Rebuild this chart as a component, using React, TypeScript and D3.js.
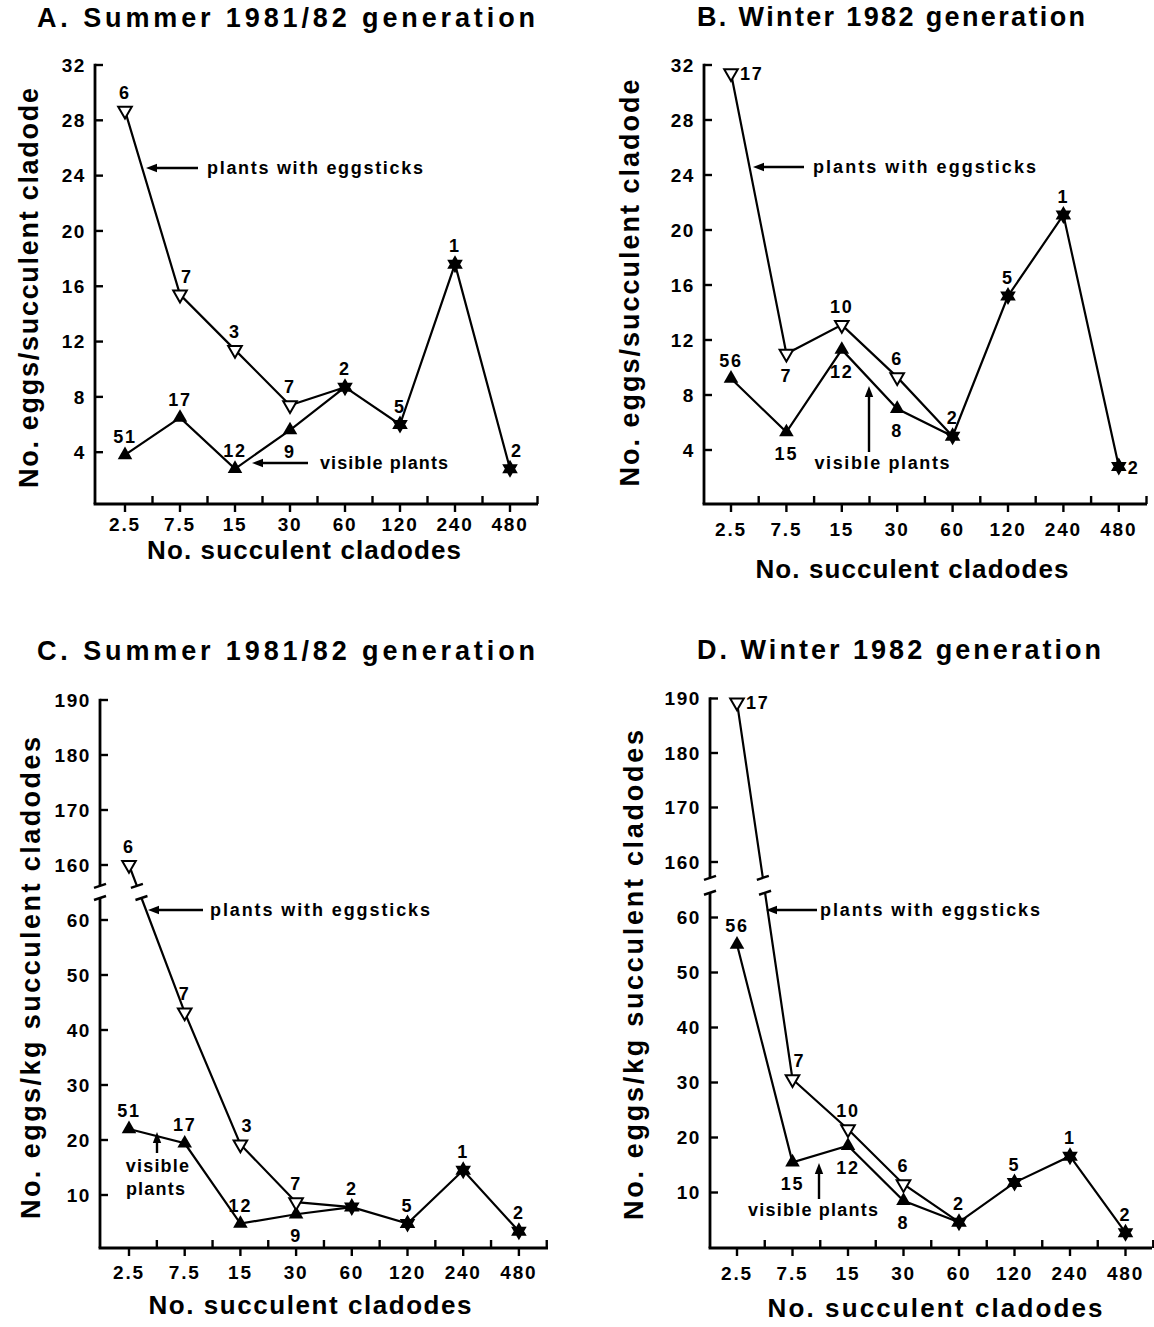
import React from "react";
import * as d3 from "d3";

const categories = ["2.5", "7.5", "15", "30", "60", "120", "240", "480"];

// Panel A: eggs per succulent cladode, summer 1981/82
const aEggsticks = [28.7, 15.4, 11.4, 7.4];
const aEggsticksN = ["6", "7", "3", "7"];
const aVisible = [3.8, 6.5, 2.8, 5.6];
const aVisibleN = ["51", "17", "12", "9"];
const aShared = [8.7, 6.0, 17.6, 2.8];
const aSharedN = ["2", "5", "1", "2"];

// Panel B: eggs per succulent cladode, winter 1982
const bEggsticks = [31.4, 11.0, 13.1, 9.3];
const bEggsticksN = ["17", "7", "10", "6"];
const bVisible = [9.2, 5.3, 11.3, 7.0];
const bVisibleN = ["56", "15", "12", "8"];
const bShared = [5.0, 15.2, 21.1, 2.8];
const bSharedN = ["2", "5", "1", "2"];

// Panel C: eggs per kg succulent cladodes, summer 1981/82
const cEggsticks = [160, 43.2, 19.2, 8.7];
const cEggsticksN = ["6", "7", "3", "7"];
const cVisible = [22.0, 19.4, 4.8, 6.5];
const cVisibleN = ["51", "17", "12", "9"];
const cShared = [7.8, 4.8, 14.5, 3.4];
const cSharedN = ["2", "5", "1", "2"];

// Panel D: eggs per kg succulent cladodes, winter 1982
const dEggsticks = [189.3, 30.6, 21.5, 11.5];
const dEggsticksN = ["17", "7", "10", "6"];
const dVisible = [55.1, 15.5, 18.5, 8.5];
const dVisibleN = ["56", "15", "12", "8"];
const dShared = [4.6, 11.8, 16.6, 2.7];
const dSharedN = ["2", "5", "1", "2"];

const yTicksPerCladode = [4, 8, 12, 16, 20, 24, 28, 32];
const yTicksKgLow = [10, 20, 30, 40, 50, 60];
const yTicksKgHigh = [160, 170, 180, 190];

const FONT = "'Liberation Sans', Arial, Helvetica, sans-serif";

type Panel = {
  title: string;
  titleX: number;
  titleY: number;
  titleLen: number;
  yLabel: string;
  yLabelX: number;
  yLabelY: number;
  yLabelLen: number;
  xLabelX: number;
  xLabelY: number;
  xLabelLen: number;
  axisX: number;
  axisY: number;
  axisEnd: number;
  x0: number;
  dx: number;
  tickLabelY: number;
  lowDomain: [number, number];
  lowRange: [number, number];
  lowTicks: number[];
  highDomain?: [number, number];
  highRange?: [number, number];
  highTicks?: number[];
  breakHigh?: number;
  breakLow?: number;
  egg: number[];
  eggN: string[];
  eggPos: string[];
  vis: number[];
  visN: string[];
  visPos: string[];
  shared: number[];
  sharedN: string[];
  sharedPos: string[];
  eggArrow: { x1: number; x2: number; y: number; tx: number; len: number };
  visArrow: {
    x1: number;
    y1: number;
    x2: number;
    y2: number;
    lines: { text: string; x: number; y: number; len?: number; anchor: string }[];
  };
};

const panels: Panel[] = [
  {
    title: "A. Summer 1981/82 generation",
    titleX: 286, titleY: 27, titleLen: 498,
    yLabel: "No. eggs/succulent cladode",
    yLabelX: 38, yLabelY: 288, yLabelLen: 400,
    xLabelX: 304, xLabelY: 559, xLabelLen: 314,
    axisX: 95, axisY: 504, axisEnd: 538, x0: 125, dx: 55, tickLabelY: 531,
    lowDomain: [0, 32], lowRange: [507.5, 65], lowTicks: yTicksPerCladode,
    egg: aEggsticks, eggN: aEggsticksN, eggPos: ["a", "ar", "a", "a"],
    vis: aVisible, visN: aVisibleN, visPos: ["a", "a", "a", "b"],
    shared: aShared, sharedN: aSharedN, sharedPos: ["a", "a", "a", "ar"],
    eggArrow: { x1: 198, x2: 146, y: 168, tx: 207, len: 216 },
    visArrow: {
      x1: 308, y1: 463, x2: 252, y2: 463,
      lines: [{ text: "visible plants", x: 320, y: 469, len: 128, anchor: "start" }],
    },
  },
  {
    title: "B. Winter 1982 generation",
    titleX: 891, titleY: 26, titleLen: 388,
    yLabel: "No. eggs/succulent cladode",
    yLabelX: 639, yLabelY: 283, yLabelLen: 407,
    xLabelX: 912, xLabelY: 578, xLabelLen: 313,
    axisX: 704, axisY: 504, axisEnd: 1147, x0: 731, dx: 55.4, tickLabelY: 536,
    lowDomain: [0, 32], lowRange: [505, 65], lowTicks: yTicksPerCladode,
    egg: bEggsticks, eggN: bEggsticksN, eggPos: ["r", "b", "a", "a"],
    vis: bVisible, visN: bVisibleN, visPos: ["a", "b", "b", "b"],
    shared: bShared, sharedN: bSharedN, sharedPos: ["a", "a", "a", "r"],
    eggArrow: { x1: 804, x2: 753, y: 167, tx: 813, len: 223 },
    visArrow: {
      x1: 869, y1: 452, x2: 869, y2: 386,
      lines: [{ text: "visible plants", x: 882, y: 469, len: 135, anchor: "middle" }],
    },
  },
  {
    title: "C. Summer 1981/82 generation",
    titleX: 286, titleY: 660, titleLen: 498,
    yLabel: "No. eggs/kg succulent cladodes",
    yLabelX: 40, yLabelY: 978, yLabelLen: 482,
    xLabelX: 310, xLabelY: 1314, xLabelLen: 323,
    axisX: 100, axisY: 1248, axisEnd: 548, x0: 129, dx: 55.7, tickLabelY: 1279,
    lowDomain: [0, 60], lowRange: [1250, 920], lowTicks: yTicksKgLow,
    highDomain: [160, 190], highRange: [865, 700], highTicks: yTicksKgHigh,
    breakHigh: 156.2, breakLow: 64,
    egg: cEggsticks, eggN: cEggsticksN, eggPos: ["a", "a", "ar", "a"],
    vis: cVisible, visN: cVisibleN, visPos: ["a", "a", "a", "b"],
    shared: cShared, sharedN: cSharedN, sharedPos: ["a", "a", "a", "a"],
    eggArrow: { x1: 203, x2: 148, y: 910, tx: 210, len: 220 },
    visArrow: {
      x1: 157, y1: 1153, x2: 157, y2: 1132,
      lines: [
        { text: "visible", x: 158, y: 1172, anchor: "middle" },
        { text: "plants", x: 156, y: 1195, anchor: "middle" },
      ],
    },
  },
  {
    title: "D. Winter 1982 generation",
    titleX: 899, titleY: 659, titleLen: 404,
    yLabel: "No. eggs/kg succulent cladodes",
    yLabelX: 643, yLabelY: 975, yLabelLen: 490,
    xLabelX: 935, xLabelY: 1317, xLabelLen: 335,
    axisX: 710, axisY: 1248, axisEnd: 1152, x0: 737, dx: 55.5, tickLabelY: 1280,
    lowDomain: [0, 60], lowRange: [1247.5, 917.5], lowTicks: yTicksKgLow,
    highDomain: [160, 190], highRange: [862, 698.5], highTicks: yTicksKgHigh,
    breakHigh: 157.1, breakLow: 64.5,
    egg: dEggsticks, eggN: dEggsticksN, eggPos: ["r", "ar", "a", "a"],
    vis: dVisible, visN: dVisibleN, visPos: ["a", "b", "b", "b"],
    shared: dShared, sharedN: dSharedN, sharedPos: ["a", "a", "a", "a"],
    eggArrow: { x1: 817, x2: 766, y: 910, tx: 820, len: 220 },
    visArrow: {
      x1: 819, y1: 1199, x2: 819, y2: 1163,
      lines: [{ text: "visible plants", x: 813, y: 1216, len: 130, anchor: "middle" }],
    },
  },
];

function hexagram(r: number) {
  const c = r * Math.cos(Math.PI / 6);
  const h = r / 2;
  return `M0,${-r}L${c},${h}L${-c},${h}Z M0,${r}L${-c},${-h}L${c},${-h}Z`;
}

const triUp = d3.symbol().type(d3.symbolTriangle).size(92)();
const triOpen = d3.symbol().type(d3.symbolTriangle).size(80)();

function labelPos(code: string, px: number, py: number) {
  switch (code) {
    case "b":
      return { x: px, y: py + 28, anchor: "middle" };
    case "r":
      return { x: px + 9, y: py + 7, anchor: "start" };
    case "ar":
      return { x: px + 7, y: py - 12, anchor: "middle" };
    default:
      return { x: px, y: py - 12, anchor: "middle" };
  }
}

function Arrow({ x1, y1, x2, y2 }: { x1: number; y1: number; x2: number; y2: number }) {
  const ang = Math.atan2(y2 - y1, x2 - x1);
  const L = 11;
  const W = 4.2;
  const bx = x2 - L * Math.cos(ang);
  const by = y2 - L * Math.sin(ang);
  const px = -Math.sin(ang) * W;
  const py = Math.cos(ang) * W;
  return (
    <g>
      <line x1={x1} y1={y1} x2={bx} y2={by} stroke="#000" strokeWidth={2.4} />
      <path d={`M${x2},${y2}L${bx + px},${by + py}L${bx - px},${by - py}Z`} fill="#000" />
    </g>
  );
}

function PanelView({ p }: { p: Panel }) {
  const x = d3
    .scalePoint<string>()
    .domain(categories)
    .range([p.x0, p.x0 + 7 * p.dx]);
  const yLow = d3.scaleLinear().domain(p.lowDomain).range(p.lowRange);
  const yHigh = p.highDomain ? d3.scaleLinear().domain(p.highDomain).range(p.highRange!) : null;
  const y = (v: number) => (yHigh && v > 100 ? yHigh(v) : yLow(v));

  const eggPts: [number, number][] = p.egg.map((v, i) => [x(categories[i])!, y(v)]);
  const visPts: [number, number][] = p.vis.map((v, i) => [x(categories[i])!, y(v)]);
  const sharedPts: [number, number][] = p.shared.map((v, i) => [x(categories[i + 4])!, y(v)]);

  const line = d3.line<[number, number]>();
  const eggLine = [...eggPts, sharedPts[0]];
  const visLine = [...visPts, sharedPts[0]];

  let eggPath = line(eggLine) || "";
  const caps: [number, number][] = [];
  let axisSegments: [number, number][];
  const tickSize = 8;

  if (yHigh && p.breakHigh !== undefined && p.breakLow !== undefined) {
    const gapTop = yHigh(p.breakHigh);
    const gapBot = yLow(p.breakLow);
    const [a, b] = [eggPts[0], eggPts[1]];
    const tTop = (gapTop - a[1]) / (b[1] - a[1]);
    const tBot = (gapBot - a[1]) / (b[1] - a[1]);
    const pTop: [number, number] = [a[0] + (b[0] - a[0]) * tTop, gapTop];
    const pBot: [number, number] = [a[0] + (b[0] - a[0]) * tBot, gapBot];
    eggPath = (line([a, pTop]) || "") + (line([pBot, ...eggLine.slice(1)]) || "");
    caps.push(pTop, pBot);
    axisSegments = [
      [yHigh(p.highDomain![1]) - 1.2, gapTop],
      [gapBot, p.axisY],
    ];
    caps.push([p.axisX, gapTop], [p.axisX, gapBot]);
  } else {
    axisSegments = [[yLow(p.lowDomain[1]) - 1.2, p.axisY]];
  }

  const yTicks = [
    ...p.lowTicks.map((t) => ({ t, py: yLow(t) })),
    ...(p.highTicks || []).map((t) => ({ t, py: yHigh!(t) })),
  ];

  const midTicks = categories.map((c) => x(c)! + p.dx / 2);

  const numStyle = { fontFamily: FONT, fontWeight: 700, fontSize: 18, letterSpacing: 1.8 } as const;

  return (
    <g>
      <text
        x={p.titleX}
        y={p.titleY}
        textAnchor="middle"
        textLength={p.titleLen}
        lengthAdjust="spacing"
        style={{ fontFamily: FONT, fontWeight: 700, fontSize: 27 }}
      >
        {p.title}
      </text>
      <text
        transform={`translate(${p.yLabelX},${p.yLabelY}) rotate(-90)`}
        textAnchor="middle"
        textLength={p.yLabelLen}
        lengthAdjust="spacing"
        style={{ fontFamily: FONT, fontWeight: 700, fontSize: 27 }}
      >
        {p.yLabel}
      </text>
      <text
        x={p.xLabelX}
        y={p.xLabelY}
        textAnchor="middle"
        textLength={p.xLabelLen}
        lengthAdjust="spacing"
        style={{ fontFamily: FONT, fontWeight: 700, fontSize: 26 }}
      >
        No. succulent cladodes
      </text>

      {axisSegments.map(([y1, y2], i) => (
        <line key={i} x1={p.axisX} x2={p.axisX} y1={y1} y2={y2} stroke="#000" strokeWidth={2.8} />
      ))}
      {yTicks.map(({ t, py }) => (
        <g key={t}>
          <line x1={p.axisX} x2={p.axisX + tickSize} y1={py} y2={py} stroke="#000" strokeWidth={2.4} />
          <text
            x={p.axisX - 9}
            y={py}
            dy="0.36em"
            textAnchor="end"
            style={{ fontFamily: FONT, fontWeight: 700, fontSize: 19, letterSpacing: 1.6 }}
          >
            {t}
          </text>
        </g>
      ))}

      <line x1={p.axisX - 1.4} x2={p.axisEnd} y1={p.axisY} y2={p.axisY} stroke="#000" strokeWidth={2.8} />
      {categories.map((c) => (
        <g key={c}>
          <line x1={x(c)!} x2={x(c)!} y1={p.axisY} y2={p.axisY + tickSize} stroke="#000" strokeWidth={2.4} />
          <text
            x={x(c)!}
            y={p.tickLabelY}
            textAnchor="middle"
            style={{ fontFamily: FONT, fontWeight: 700, fontSize: 19, letterSpacing: 1.8 }}
          >
            {c}
          </text>
        </g>
      ))}
      {midTicks.map((mx, i) => (
        <line key={i} x1={mx} x2={mx} y1={p.axisY} y2={p.axisY - tickSize} stroke="#000" strokeWidth={2.4} />
      ))}

      <path d={eggPath} fill="none" stroke="#000" strokeWidth={2.2} />
      <path d={line(visLine) || ""} fill="none" stroke="#000" strokeWidth={2.2} />
      <path d={line(sharedPts) || ""} fill="none" stroke="#000" strokeWidth={2.2} />
      {caps.map(([cx, cy], i) => (
        <line key={i} x1={cx - 6} y1={cy + 2} x2={cx + 6} y2={cy - 2} stroke="#000" strokeWidth={2.4} />
      ))}

      {visPts.map(([px, py], i) => (
        <path key={"v" + i} d={triUp} transform={`translate(${px},${py})`} fill="#000" />
      ))}
      {eggPts.map(([px, py], i) => (
        <path
          key={"e" + i}
          d={triOpen}
          transform={`translate(${px},${py}) rotate(180)`}
          fill="#fff"
          stroke="#000"
          strokeWidth={2}
        />
      ))}
      {sharedPts.map(([px, py], i) => (
        <path key={"s" + i} d={hexagram(9)} transform={`translate(${px},${py})`} fill="#000" />
      ))}

      {eggPts.map(([px, py], i) => {
        const l = labelPos(p.eggPos[i], px, py);
        return (
          <text key={"en" + i} x={l.x} y={l.y} textAnchor={l.anchor as any} style={numStyle}>
            {p.eggN[i]}
          </text>
        );
      })}
      {visPts.map(([px, py], i) => {
        const l = labelPos(p.visPos[i], px, py);
        return (
          <text key={"vn" + i} x={l.x} y={l.y} textAnchor={l.anchor as any} style={numStyle}>
            {p.visN[i]}
          </text>
        );
      })}
      {sharedPts.map(([px, py], i) => {
        const l = labelPos(p.sharedPos[i], px, py);
        return (
          <text key={"sn" + i} x={l.x} y={l.y} textAnchor={l.anchor as any} style={numStyle}>
            {p.sharedN[i]}
          </text>
        );
      })}

      <Arrow x1={p.eggArrow.x1} y1={p.eggArrow.y} x2={p.eggArrow.x2} y2={p.eggArrow.y} />
      <text
        x={p.eggArrow.tx}
        y={p.eggArrow.y + 6}
        textLength={p.eggArrow.len}
        lengthAdjust="spacing"
        style={{ fontFamily: FONT, fontWeight: 700, fontSize: 18 }}
      >
        plants with eggsticks
      </text>
      <Arrow x1={p.visArrow.x1} y1={p.visArrow.y1} x2={p.visArrow.x2} y2={p.visArrow.y2} />
      {p.visArrow.lines.map((ln, i) => (
        <text
          key={i}
          x={ln.x}
          y={ln.y}
          textAnchor={ln.anchor as any}
          textLength={ln.len}
          lengthAdjust={ln.len ? "spacing" : undefined}
          style={{ fontFamily: FONT, fontWeight: 700, fontSize: 18, letterSpacing: ln.len ? 0 : 1.2 }}
        >
          {ln.text}
        </text>
      ))}
    </g>
  );
}

export default function App() {
  return (
    <svg
      width={1154}
      height={1327}
      viewBox="0 0 1154 1327"
      style={{ position: "absolute", left: 0, top: 0, background: "#fff" }}
    >
      <rect x={0} y={0} width={1154} height={1327} fill="#fff" />
      {panels.map((p, i) => (
        <PanelView key={i} p={p} />
      ))}
    </svg>
  );
}
